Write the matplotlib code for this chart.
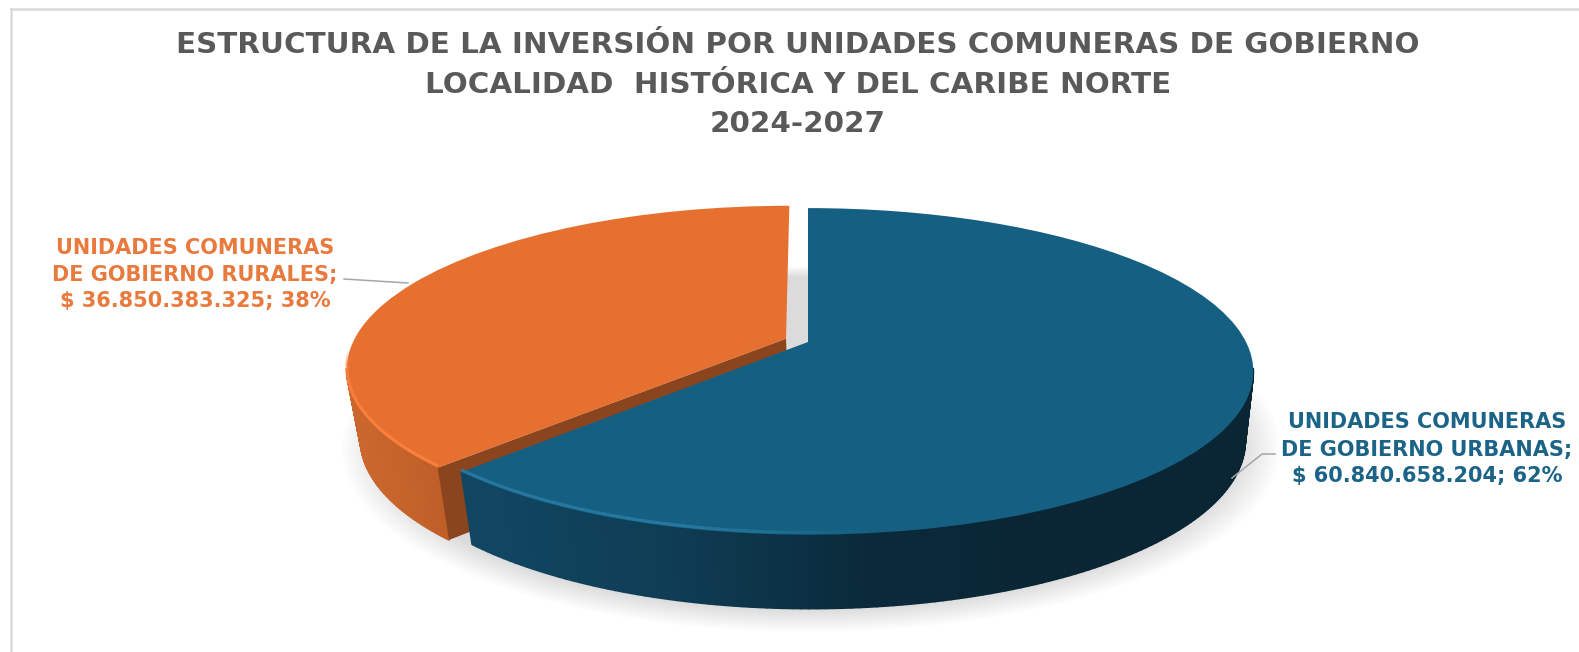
#!/usr/bin/env python3
"""3D look pie: Estructura de la inversion por unidades comuneras de gobierno."""

import numpy as np
import matplotlib
matplotlib.use('Agg')
import matplotlib.pyplot as plt
from matplotlib.collections import LineCollection, PolyCollection
from matplotlib.colors import LinearSegmentedColormap, to_rgb
from matplotlib.patches import Circle, Polygon
from matplotlib.transforms import Transform

title_lines = ['ESTRUCTURA DE LA INVERSIÓN POR UNIDADES COMUNERAS DE GOBIERNO',
               'LOCALIDAD  HISTÓRICA Y DEL CARIBE NORTE',
               '2024-2027']
values = [60840658204, 36850383325]
label_lines = [['UNIDADES COMUNERAS', 'DE GOBIERNO URBANAS;', '$ 60.840.658.204; 62%'],
               ['UNIDADES COMUNERAS', 'DE GOBIERNO RURALES;', '$ 36.850.383.325; 38%']]
explode = [0, 0.055]
top_colors = ['#156082', '#E6702F']
text_colors = ['#1B6488', '#E97A3E']
rim_colors = ['#2A7DA6', '#FF8340']
cut_color = '#8B451E'
wall_cmaps = [
    LinearSegmentedColormap.from_list('b', ['#114662', '#0F3D55', '#0A2A3B', '#0A2533', '#0A2533']),
    LinearSegmentedColormap.from_list('o', ['#CC682E', '#BD5E27']),
]
wall_ranges = [(468, 1250), (346, 450)]

W, H = 1579, 652
plt.rcParams['font.family'] = ['DejaVu Sans']


class Persp(Transform):
    """Tilted disc seen in perspective: unit disc coords to picture pixels."""
    input_dims = 2
    output_dims = 2
    is_separable = False

    def __init__(self, cx, cy, a_left, a_right, b, k):
        super().__init__()
        self.cx, self.cy, self.a_left, self.a_right, self.b, self.k = cx, cy, a_left, a_right, b, k

    def transform_non_affine(self, values):
        values = np.asarray(values, dtype=float)
        w = 1 + self.k * values[:, 1]
        a = np.where(values[:, 0] < 0, self.a_left, self.a_right)
        return np.column_stack([self.cx + a * values[:, 0] / w,
                                self.cy - self.b * values[:, 1] / w])


top = Persp(808, 342, 433, 438, 158, 0.18)
bottom = Persp(810, 411, 422, 428, 162, 0.18)

fig = plt.figure(figsize=(W / 100, H / 100), dpi=100)
ax = fig.add_axes([0, 0, 1, 1])
wedges, _ = ax.pie(values, explode=explode, startangle=90, counterclock=False,
                   colors=top_colors, frame=True)
ax.set_aspect('auto')
ax.set_xlim(0, W)
ax.set_ylim(H, 0)
ax.axis('off')

# soft shadow under the pie
for r in np.linspace(1.08, 0.99, 18):
    ax.add_patch(Circle((-0.005, -0.015), r, color='#9A9A9A', alpha=0.017, lw=0,
                        transform=bottom + ax.transData, zorder=0.5))

for i, w in enumerate(wedges):
    cu, cv = w.center
    th = np.radians(np.linspace(w.theta1, w.theta2, 240))
    pts = np.column_stack([cu + np.cos(th), cv + np.sin(th)])
    t_xy = top.transform(pts)
    b_xy = bottom.transform(pts)

    # outer wall as thin quads, shaded by x position; only the front part shows
    keep = np.where(pts[:-1, 1] - cv < -0.18)[0]
    quads = [[t_xy[j], t_xy[j + 1], b_xy[j + 1], b_xy[j]] for j in keep]
    x0, x1 = wall_ranges[i]
    shade = np.clip((t_xy[keep, 0] - x0) / (x1 - x0), 0, 1)
    cols = wall_cmaps[i](shade)
    ax.add_collection(PolyCollection(quads, facecolors=cols, edgecolors=cols,
                                     linewidths=1.3, zorder=2 if i == 0 else 1),
                      autolim=False)

    # cut face of the orange slice, seen through the gap
    if i == 1:
        ends = np.array([[cu, cv], [cu + np.cos(th[-1]), cv + np.sin(th[-1])]])
        if pts[0, 1] < pts[-1, 1]:
            ends[1] = [cu + np.cos(th[0]), cv + np.sin(th[0])]
        face = np.vstack([top.transform(ends), bottom.transform(ends)[::-1]])
        ax.add_patch(Polygon(face, closed=True, color=cut_color, lw=0, zorder=1.5))

    w.set_transform(top + ax.transData)
    w.set_zorder(1.8 if i == 1 else 3)
    w.set_edgecolor('none')

    # light rim along the front of the top face, fading out towards the back
    if i == 0:
        rim = np.where((pts[:, 0] < 0.12) & (pts[:, 1] < 0))[0]
        fade = np.clip((0.12 - pts[rim, 0]) / 0.35, 0, 1)
    else:
        rim = np.where(pts[:, 1] - cv < -0.08)[0]
        fade = np.clip((-0.08 - (pts[rim, 1] - cv)) / 0.12, 0, 1)
    rim_xy = t_xy[rim] - [0, 2.2]
    segs = np.stack([rim_xy[:-1], rim_xy[1:]], axis=1)
    rgba = [to_rgb(rim_colors[i]) + (0.85 * f,) for f in fade[:-1]]
    ax.add_collection(LineCollection(segs, colors=rgba, linewidths=2.2,
                                     zorder=3.2 if i == 0 else 1.9), autolim=False)

# leader lines
ax.plot([344, 408], [279, 283], color='#A6A6A6', lw=1.1, zorder=4)
ax.plot([1275, 1262, 1232], [454, 454, 478], color='#A6A6A6', lw=1.1, zorder=4)

# chart frame, top and left only are in the crop
ax.plot([11, W], [9, 9], color='#DADADA', lw=1.8, zorder=4)
ax.plot([11, 11], [9, H], color='#DADADA', lw=1.8, zorder=4)

for line, y in zip(title_lines, [53, 93, 132]):
    ax.text(798, y, line, color='#595959', fontsize=21.2, fontweight='bold',
            ha='center', va='baseline', zorder=5)

label_pos = [(1427, [428, 456, 482]), (195, [254, 281, 307])]
for i, (x, ys) in enumerate(label_pos):
    for line, y in zip(label_lines[i], ys):
        ax.text(x, y, line, color=text_colors[i], fontsize=15, fontweight='bold',
                ha='center', va='baseline', zorder=5)

fig.savefig('out.png', dpi=100, facecolor='white')
